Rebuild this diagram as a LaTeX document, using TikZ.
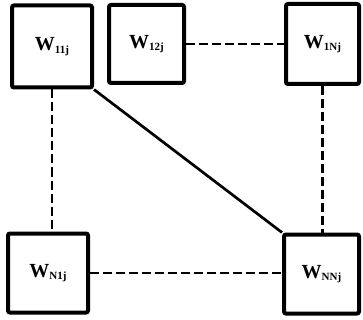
\documentclass[tikz,border=0pt]{standalone}
\usepackage{fontspec}
\setmainfont{Liberation Serif}
\newcommand{\wlab}[1]{{\fontsize{20}{20}\selectfont\bfseries W}\raisebox{-2.5pt}{\fontsize{11}{11}\selectfont\bfseries #1}}
\begin{document}
\begin{tikzpicture}[x=1pt,y=-1pt,
  wbox/.style={draw, line width=4pt, rounded corners=2pt, inner sep=0pt, fill=white},
  dashline/.style={line width=2.7pt, dash pattern=on 9pt off 4pt},
  solidline/.style={line width=2.7pt}]
\useasboundingbox (0,0) rectangle (363,320);
\node[wbox, minimum width=80pt, minimum height=82pt] (b1) at (52,46.5) {\wlab{11j}};
\node[wbox, minimum width=75pt, minimum height=78pt] (b2) at (146.5,44) {\wlab{12j}};
\node[wbox, minimum width=73pt, minimum height=80pt] (b3) at (322.5,44) {\wlab{1Nj}};
\node[wbox, minimum width=80pt, minimum height=79pt] (bN1) at (48,273) {\wlab{N1j}};
\node[wbox, minimum width=75pt, minimum height=79pt] (bNN) at (321.5,274) {\wlab{NNj}};
\draw[dashline] (b2.east) -- (b2.east -| b3.west);
\draw[dashline] (b1.south) -- (b1.south |- bN1.north);
\draw[dashline] (b3.south) -- (b3.south |- bNN.north);
\draw[dashline] (bN1.east) -- (bN1.east -| bNN.west);
\draw[solidline] (b1.south east) -- (bNN.north west);
\end{tikzpicture}
\end{document}
